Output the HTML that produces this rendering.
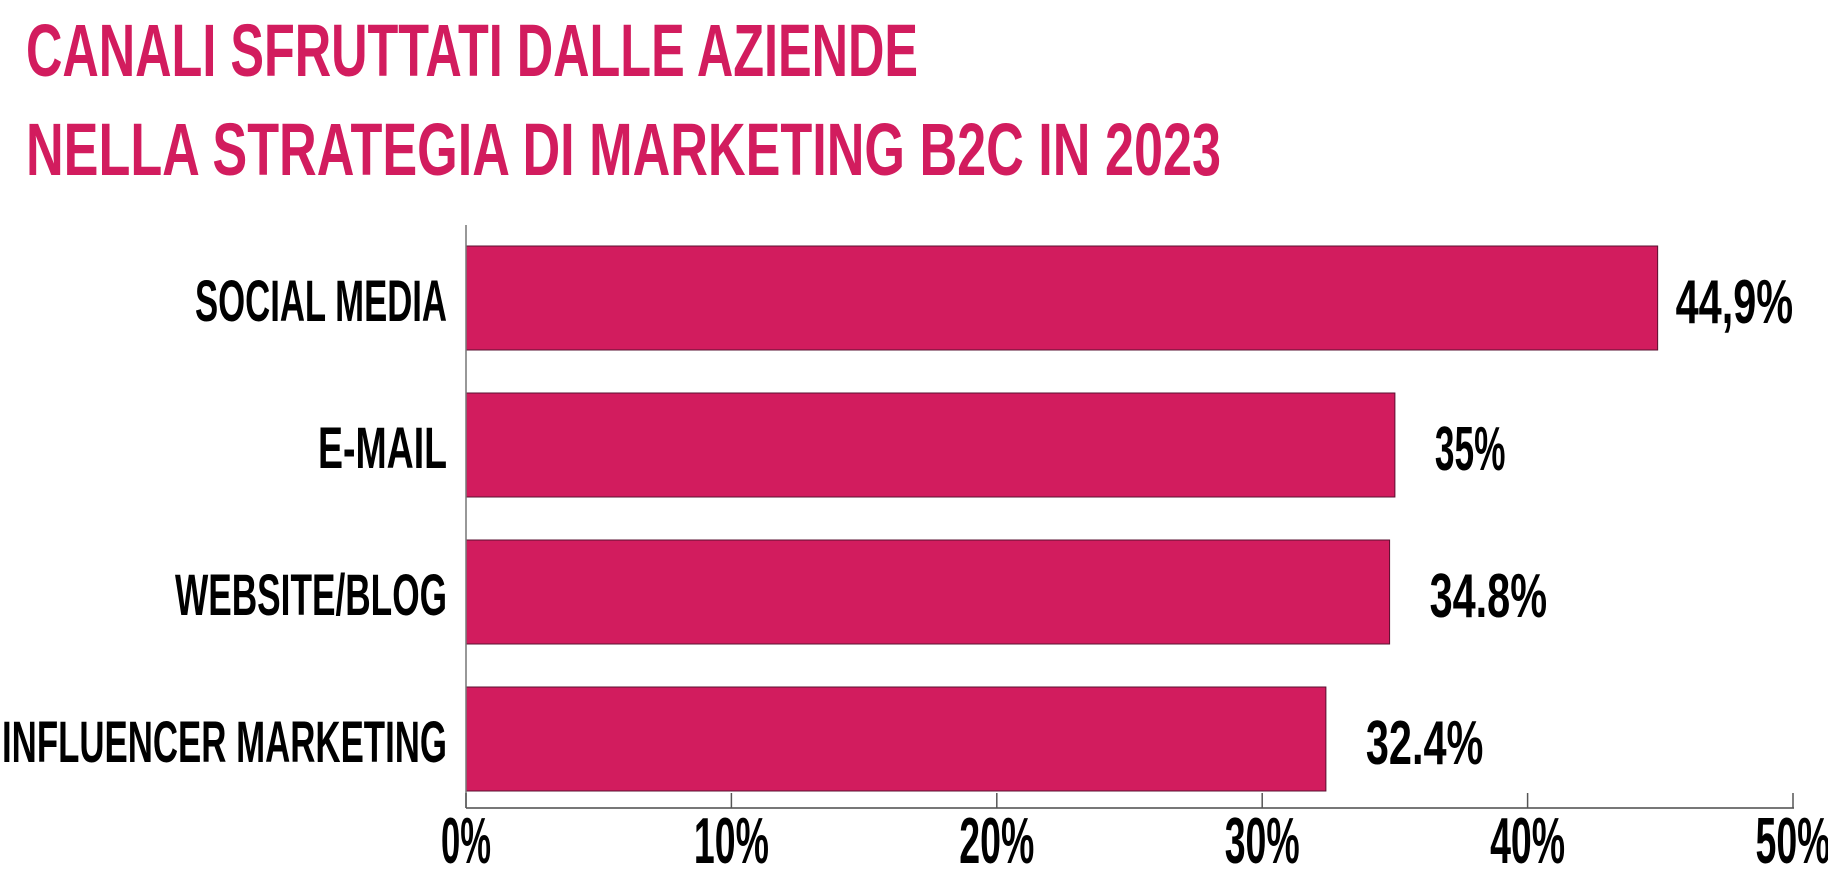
<!DOCTYPE html>
<html><head><meta charset="utf-8"><style>
html,body{margin:0;padding:0;background:#fff;width:1828px;height:874px;overflow:hidden}
text{font-family:"Liberation Sans Narrow","Liberation Sans",sans-serif;font-weight:bold}
</style></head><body>
<svg id="chart" width="1828" height="874" viewBox="0 0 1828 874" xmlns="http://www.w3.org/2000/svg">
<text x="26" y="76" font-size="74" fill="#d21c5e" textLength="892" lengthAdjust="spacingAndGlyphs">CANALI SFRUTTATI DALLE AZIENDE</text>
<text x="26" y="175" font-size="74" fill="#d21c5e" textLength="1195" lengthAdjust="spacingAndGlyphs">NELLA STRATEGIA DI MARKETING B2C IN 2023</text>
<g id="bars"></g>
<g id="axes"></g>
</svg>
<script>
const categories = ["SOCIAL MEDIA", "E-MAIL", "WEBSITE/BLOG", "INFLUENCER MARKETING"];
const values = [44.9, 35, 34.8, 32.4];
const valueLabels = ["44,9%", "35%", "34.8%", "32.4%"];
const tickValues = [0, 10, 20, 30, 40, 50];
const tickLabels = ["0%", "10%", "20%", "30%", "40%", "50%"];

const NS = "http://www.w3.org/2000/svg";
const x0 = 466, x1 = 1793, xMax = 50;
const xScale = v => x0 + (v / xMax) * (x1 - x0);
const bandTop = 246, bandStep = 147, barH = 104;
const yScale = i => bandTop + i * bandStep;
const catW = [252, 129, 272, 445];
function mk(tag, attrs, parent){const e=document.createElementNS(NS,tag);for(const k in attrs)e.setAttribute(k,attrs[k]);parent.appendChild(e);return e;}
const bars = document.getElementById('bars');
const axes = document.getElementById('axes');
categories.forEach((c,i)=>{
  const y = yScale(i);
  const r = mk('rect',{x:x0,y:y,width:xScale(values[i])-x0,height:barH,fill:'#d21c5e',stroke:'#5a1030','stroke-width':1},bars);
  
  
  const t = mk('text',{x:447,y:y+barH/2+23,'font-size':58,fill:'#000','text-anchor':'end',textLength:catW[i],lengthAdjust:'spacingAndGlyphs'},bars);
  t.textContent = c;
  
  
  const vx = xScale(values[i]) + (i===0 ? 18 : 40);
  const v = mk('text',{x:vx,y:y+barH/2+25,'font-size':62,fill:'#000',textLength:valueLabels[i].length*23.5,lengthAdjust:'spacingAndGlyphs'},bars);
  v.textContent = valueLabels[i];
  
  
});
const yAxis = mk('line',{x1:x0,y1:225,x2:x0,y2:808,stroke:'#777','stroke-width':1.5},axes);


const xAxis = mk('line',{x1:x0,y1:808,x2:x1+1,y2:808,stroke:'#777','stroke-width':2},axes);


tickValues.forEach((tv,i)=>{
  const tx = xScale(tv);
  const tk = mk('line',{x1:tx,y1:793,x2:tx,y2:808,stroke:'#555','stroke-width':1.5},axes);
  
  
  const lbl = mk('text',{x:tx,y:863,'font-size':65,fill:'#000','text-anchor':'middle',textLength:tickLabels[i].length*25,lengthAdjust:'spacingAndGlyphs'},axes);
  lbl.textContent = tickLabels[i];
  
  
});
</script>
</body></html>
